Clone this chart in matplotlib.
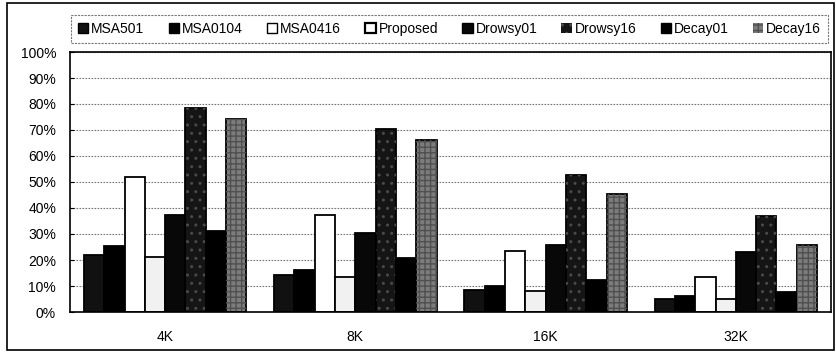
import numpy as np
import matplotlib
matplotlib.use("Agg")
import matplotlib.pyplot as plt
from matplotlib.patches import Patch, Rectangle
from matplotlib.ticker import FuncFormatter

plt.rcParams['font.family'] = ['Liberation Sans', 'DejaVu Sans']

categories = ["4K", "8K", "16K", "32K"]
series_names = ["MSA501", "MSA0104", "MSA0416", "Proposed",
                "Drowsy01", "Drowsy16", "Decay01", "Decay16"]
msa501   = [22.0, 14.1, 8.5, 5.1]
msa0104  = [25.5, 16.3, 10.0, 6.2]
msa0416  = [52.0, 37.2, 23.5, 13.5]
proposed = [21.2, 13.5, 8.2, 4.9]
drowsy01 = [37.5, 30.4, 25.6, 23.2]
drowsy16 = [78.5, 70.5, 52.8, 36.8]
decay01  = [31.0, 20.8, 12.5, 7.6]
decay16  = [74.3, 66.3, 45.3, 25.7]
series_values = [msa501, msa0104, msa0416, proposed,
                 drowsy01, drowsy16, decay01, decay16]
ytick_values = np.arange(0, 101, 10)

# style per series: facecolor, hatch, hatch color
styles = [
    ("#111111", "", None),
    ("#000000", "", None),
    ("#ffffff", "", None),
    ("#f1f1f1", "", None),
    ("#080808", "", None),
    ("#151515", "..", "#4a4a4a"),
    ("#000000", "", None),
    ("#7c7c7c", "+++", "#505050"),
]

W, H = 837, 353
fig = plt.figure(figsize=(W / 100, H / 100), dpi=100)
ax = fig.add_axes([70 / W, 1 - 312 / H, (831 - 70) / W, (312 - 52) / H])

x = np.arange(len(categories))
n = len(series_names)
total = 0.854
bw = total / n
for i, (vals, (fc, hatch, hc)) in enumerate(zip(series_values, styles)):
    pos = x - total / 2 + bw * (i + 0.5)
    z = 3 + i * 0.01
    ax.bar(pos, vals, width=bw, color=fc, edgecolor="black",
           linewidth=1.3, zorder=z)
    if hatch:
        ax.bar(pos, vals, width=bw, color="none", edgecolor=hc, hatch=hatch,
               linewidth=0, zorder=z + 0.005)

ax.set_xlim(-0.5, len(categories) - 0.5)
ax.set_ylim(0, 100)
ax.set_yticks(ytick_values)
ax.yaxis.set_major_formatter(FuncFormatter(lambda v, p: f"{int(v)}%"))
ax.set_xticks(x)
ax.set_xticklabels(categories)
ax.tick_params(axis="x", length=0, pad=13, labelsize=10)
ax.tick_params(axis="y", length=3, direction="in", pad=10, labelsize=10)
ax.yaxis.grid(True, linestyle=(0, (1.5, 1.2)), color="#777777", linewidth=0.8, zorder=0)
ax.set_axisbelow(True)
for s in ax.spines.values():
    s.set_color("black")
    s.set_linewidth(1.2)
    s.set_zorder(10)

handles = []
for (fc, hatch, hc) in styles:
    if hatch:
        handles.append(Patch(facecolor=fc, edgecolor=hc, hatch=hatch, linewidth=0))
    else:
        handles.append(Patch(facecolor=fc, edgecolor="black", linewidth=1.0))
handles[3] = Patch(facecolor="#ffffff", edgecolor="black", linewidth=1.6)
leg = fig.legend(handles, series_names, loc="lower left", ncol=8, mode="expand",
                 bbox_to_anchor=(71 / W, 1 - 43 / H, (828 - 71) / W, 30 / H),
                 frameon=True, fancybox=False, fontsize=10,
                 handlelength=0.75, handleheight=0.75, handletextpad=0.2,
                 borderpad=0.5, borderaxespad=0)
leg.get_frame().set_edgecolor("#555555")
leg.get_frame().set_linestyle((0, (2, 1)))
leg.get_frame().set_linewidth(0.8)

fig.patches.append(Rectangle((7 / W, 3 / H), (834 - 7) / W, (350 - 3) / H,
                             transform=fig.transFigure, fill=False,
                             edgecolor="black", linewidth=1.2))

fig.savefig("out.png", dpi=100)
